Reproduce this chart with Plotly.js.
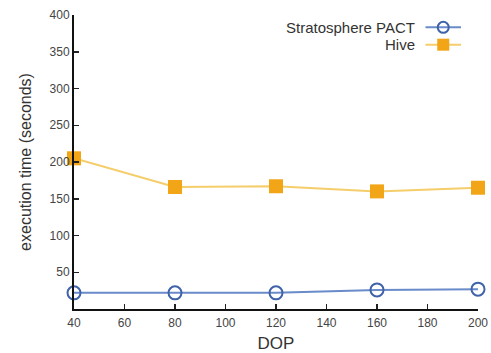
<!DOCTYPE html>
<html>
<head>
<meta charset="utf-8">
<script src="https://cdn.plot.ly/plotly-3.0.1.min.js"></script>
<style>html,body{margin:0;padding:0;background:#fff;}#chart{width:491px;height:353px;}</style>
</head>
<body>
<div id="chart"></div>
<script>
const dop = [40, 80, 120, 160, 200];
const stratosphere = [22, 22, 22, 26, 27];
const hive = [205, 166, 167, 160, 165];
const seriesNames = ["Stratosphere PACT", "Hive"];
const xTicks = [40, 60, 80, 100, 120, 140, 160, 180, 200];
const yTicks = [50, 100, 150, 200, 250, 300, 350, 400];

const blueLine = "#6a8bc9", blueMarker = "#3f62a8";
const hiveLine = "#f5cd6a", hiveMarker = "#f2a516";

const traces = [
  {x: dop, y: stratosphere, name: seriesNames[0], mode: "lines+markers", cliponaxis: false,
   line: {color: blueLine, width: 2},
   marker: {symbol: "circle-open", size: 13, color: blueMarker, line: {width: 2, color: blueMarker}}},
  {x: dop, y: hive, name: seriesNames[1], mode: "lines+markers", cliponaxis: false,
   line: {color: hiveLine, width: 2},
   marker: {symbol: "square", size: 14, color: hiveMarker}}
];

const font = "Liberation Sans, Arial, Helvetica, sans-serif";
const layout = {
  width: 491, height: 353,
  margin: {l: 74, r: 13, t: 15, b: 44},
  paper_bgcolor: "#fff", plot_bgcolor: "#fff",
  showlegend: false,
  font: {family: font, color: "#333", size: 12},
  xaxis: {range: [40, 200], tickvals: xTicks, ticks: "inside", ticklen: 5, tickwidth: 1.5, tickcolor: "#222",
          showline: true, linecolor: "#111", linewidth: 2, showgrid: false, zeroline: false, mirror: false,
          tickfont: {size: 12, color: "#444"}, ticklabelstandoff: 2,
          title: {text: "DOP", font: {size: 17, color: "#333"}, standoff: 8}},
  yaxis: {range: [0, 400], tickvals: yTicks, ticks: "inside", ticklen: 5, tickwidth: 1.5, tickcolor: "#222",
          showline: true, linecolor: "#111", linewidth: 2, showgrid: false, zeroline: false, mirror: false,
          tickfont: {size: 12, color: "#444"},
          title: {text: "execution time (seconds)", font: {size: 16, color: "#333"}, standoff: 14}},
  annotations: [
    {xref: "paper", yref: "paper", x: 0.85, y: 0.958, xanchor: "right", yanchor: "middle", showarrow: false,
     text: seriesNames[0], font: {size: 15, color: "#333", family: font}},
    {xref: "paper", yref: "paper", x: 0.85, y: 0.899, xanchor: "right", yanchor: "middle", showarrow: false,
     text: seriesNames[1], font: {size: 15, color: "#333", family: font}}
  ],
  shapes: [
    {type: "line", xref: "paper", yref: "paper", x0: 0.87, x1: 0.958, y0: 0.958, y1: 0.958, line: {color: blueLine, width: 2}},
    {type: "circle", xref: "paper", yref: "paper", xsizemode: "pixel", ysizemode: "pixel", xanchor: 0.914, yanchor: 0.958,
     x0: -5.5, x1: 5.5, y0: -5.5, y1: 5.5, line: {color: blueMarker, width: 2}, fillcolor: "rgba(0,0,0,0)"},
    {type: "line", xref: "paper", yref: "paper", x0: 0.87, x1: 0.958, y0: 0.899, y1: 0.899, line: {color: hiveLine, width: 2}},
    {type: "rect", xref: "paper", yref: "paper", xsizemode: "pixel", ysizemode: "pixel", xanchor: 0.914, yanchor: 0.899,
     x0: -6, x1: 6, y0: -6, y1: 6, line: {width: 0}, fillcolor: hiveMarker}
  ]
};

Plotly.newPlot("chart", traces, layout, {displayModeBar: false, staticPlot: true});
</script>
</body>
</html>
